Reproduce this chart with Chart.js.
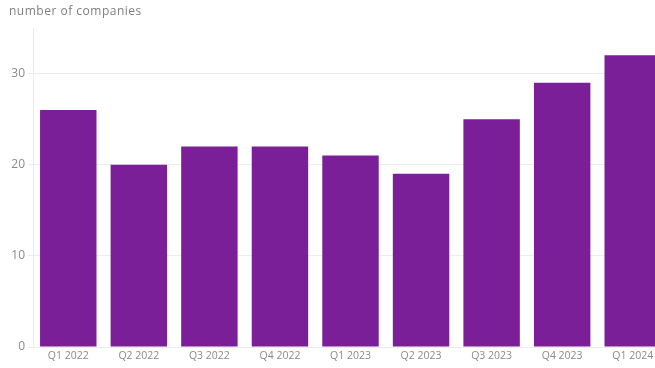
<!DOCTYPE html>
<html>
<head>
<meta charset="utf-8">
<script src="https://cdn.jsdelivr.net/npm/chart.js@4"></script>
<style>
    html, body { margin: 0; padding: 0; background: #fff; overflow: hidden; }
    #wrap { position: relative; width: 655px; height: 368px; overflow: hidden; }
    #title {
        position: absolute; left: 9px; top: 3px;
        font-family: 'Open Sans', sans-serif; font-size: 12px;
        letter-spacing: 0.5px; color: #7f7f7f; line-height: 16px;
    }
</style>
</head>
<body>
<div id="wrap">
    <div id="title">number of companies</div>
    <canvas id="companiesChart" width="668" height="368"></canvas>
</div>
<script>
    const quarters = ['Q1 2022', 'Q2 2022', 'Q3 2022', 'Q4 2022', 'Q1 2023', 'Q2 2023', 'Q3 2023', 'Q4 2023', 'Q1 2024'];
    const companies = [26, 20, 22, 22, 21, 19, 25, 29, 32];
    const yTicks = [0, 10, 20, 30];

    const barColor = '#7b1f98';
    const textColor = '#8a8a8a';
    const gridColor = '#ececec';

    new Chart(document.getElementById('companiesChart'), {
        type: 'bar',
        data: {
            labels: quarters,
            datasets: [{
                label: 'number of companies',
                data: companies,
                backgroundColor: barColor,
                categoryPercentage: 1,
                barPercentage: 0.8
            }]
        },
        options: {
            responsive: false,
            animation: false,
            layout: { padding: { left: 0, right: 0, top: 28, bottom: 0 } },
            plugins: {
                legend: { display: false },
                tooltip: { enabled: false },
                title: { display: false }
            },
            scales: {
                x: {
                    grid: { display: false, drawTicks: false },
                    border: { display: false },
                    ticks: {
                        color: textColor,
                        font: { family: 'Open Sans', size: 10.5 },
                        padding: 3,
                        maxRotation: 0,
                        autoSkip: false
                    },
                    afterFit: scale => { scale.height = 21; }
                },
                y: {
                    min: 0,
                    max: 35,
                    afterBuildTicks: scale => {
                        scale.ticks = yTicks.map(v => ({ value: v }));
                    },
                    grid: { color: gridColor, drawTicks: true, tickLength: 5 },
                    border: { display: true, color: gridColor },
                    ticks: {
                        color: textColor,
                        font: { family: 'Open Sans', size: 12 },
                        padding: 3
                    },
                    afterFit: scale => { scale.width = 33; }
                }
            }
        }
    });
</script>
</body>
</html>
